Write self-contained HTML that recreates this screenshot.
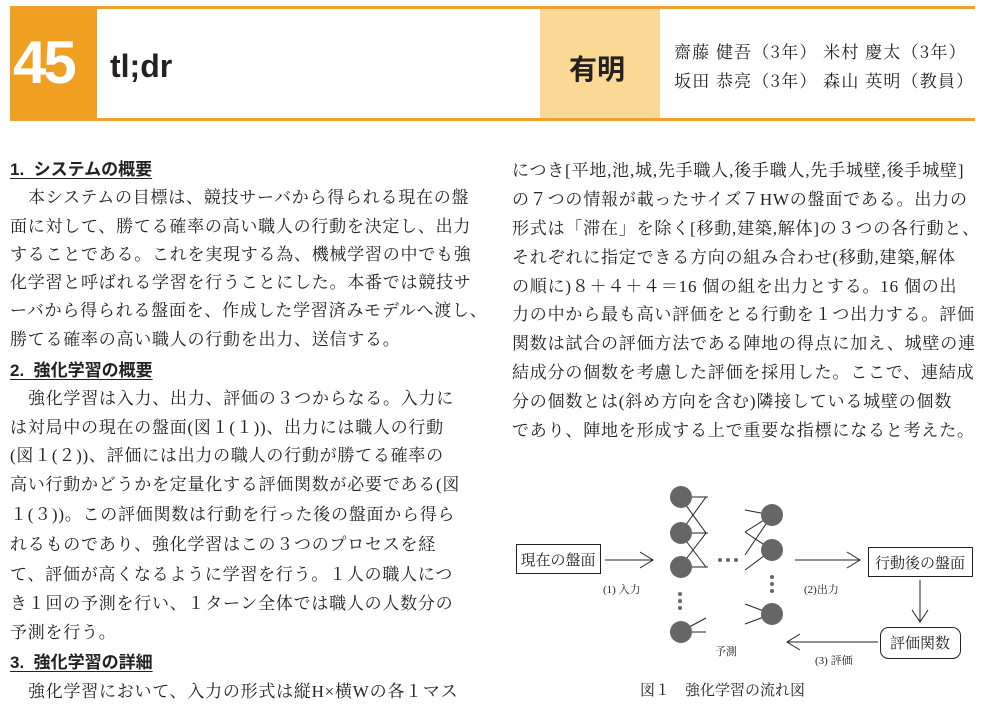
<!DOCTYPE html>
<html><head><meta charset="utf-8"><style>
body{margin:0;width:990px;height:714px;background:#fff;position:relative;overflow:hidden;font-family:"Liberation Serif","Noto Serif CJK SC",serif;color:#222}
.l{position:absolute;font-size:17px;white-space:nowrap;line-height:20px;letter-spacing:0.75px}
.r{letter-spacing:0.8px}
.h{font-family:"Liberation Sans","Noto Sans CJK JP",sans-serif;font-weight:bold;text-decoration:underline;text-underline-offset:3px;letter-spacing:0}
</style></head><body>
<div style="position:absolute;left:10px;top:6px;width:965px;height:3px;background:#f0a030"></div>
<div style="position:absolute;left:10px;top:118px;width:965px;height:3px;background:#f0a030"></div>
<div style="position:absolute;left:10px;top:9px;width:87px;height:109px;background:#f0a020"></div>
<div style="position:absolute;left:13px;top:28px;font:bold 60px 'Liberation Sans',sans-serif;color:#fff;letter-spacing:-3px">45</div>
<div style="position:absolute;left:110px;top:48px;font:bold 32px 'Liberation Sans',sans-serif;color:#222">tl;dr</div>
<div style="position:absolute;left:540px;top:9px;width:120px;height:109px;background:#fbd894"></div>
<div style="position:absolute;left:569px;top:48px;font:bold 28px 'Liberation Sans','Noto Sans CJK JP',sans-serif;color:#222">有明</div>
<div class="l" style="left:674px;top:41px;font-size:17px;font-family:'Noto Serif CJK SC',serif;letter-spacing:1.2px">齋藤 健吾（3年） 米村 慶太（3年）</div>
<div class="l" style="left:674px;top:70px;font-size:17px;font-family:'Noto Serif CJK SC',serif;letter-spacing:1.2px">坂田 恭亮（3年） 森山 英明（教員）</div>

<div class="l h" style="left:10px;top:160px">1.&nbsp; システムの概要</div>
<div class="l" style="left:28px;top:188px">本システムの目標は、競技サーバから得られる現在の盤</div>
<div class="l" style="left:10px;top:217px">面に対して、勝てる確率の高い職人の行動を決定し、出力</div>
<div class="l" style="left:10px;top:245px">することである。これを実現する為、機械学習の中でも強</div>
<div class="l" style="left:10px;top:273px">化学習と呼ばれる学習を行うことにした。本番では競技サ</div>
<div class="l" style="left:10px;top:301px">ーバから得られる盤面を、作成した学習済みモデルへ渡し、</div>
<div class="l" style="left:10px;top:330px">勝てる確率の高い職人の行動を出力、送信する。</div>
<div class="l h" style="left:10px;top:361px">2.&nbsp; 強化学習の概要</div>
<div class="l" style="left:28px;top:389px">強化学習は入力、出力、評価の３つからなる。入力に</div>
<div class="l" style="left:10px;top:418px">は対局中の現在の盤面(図１(１))、出力には職人の行動</div>
<div class="l" style="left:10px;top:446px">(図１(２))、評価には出力の職人の行動が勝てる確率の</div>
<div class="l" style="left:10px;top:475px">高い行動かどうかを定量化する評価関数が必要である(図</div>
<div class="l" style="left:10px;top:505px">１(３))。この評価関数は行動を行った後の盤面から得ら</div>
<div class="l" style="left:10px;top:535px">れるものであり、強化学習はこの３つのプロセスを経</div>
<div class="l" style="left:10px;top:565px">て、評価が高くなるように学習を行う。１人の職人につ</div>
<div class="l" style="left:10px;top:594px">き１回の予測を行い、１ターン全体では職人の人数分の</div>
<div class="l" style="left:10px;top:623px">予測を行う。</div>
<div class="l h" style="left:10px;top:653px">3.&nbsp; 強化学習の詳細</div>
<div class="l" style="left:28px;top:682px">強化学習において、入力の形式は縦H×横Wの各１マス</div>

<div class="l r" style="left:512px;top:161px">につき[平地,池,城,先手職人,後手職人,先手城壁,後手城壁]</div>
<div class="l r" style="left:512px;top:190px">の７つの情報が載ったサイズ７HWの盤面である。出力の</div>
<div class="l r" style="left:512px;top:219px">形式は「滞在」を除く[移動,建築,解体]の３つの各行動と、</div>
<div class="l r" style="left:512px;top:248px">それぞれに指定できる方向の組み合わせ(移動,建築,解体</div>
<div class="l r" style="left:512px;top:277px">の順に)８＋４＋４＝16 個の組を出力とする。16 個の出</div>
<div class="l r" style="left:512px;top:305px">力の中から最も高い評価をとる行動を１つ出力する。評価</div>
<div class="l r" style="left:512px;top:334px">関数は試合の評価方法である陣地の得点に加え、城壁の連</div>
<div class="l r" style="left:512px;top:363px">結成分の個数を考慮した評価を採用した。ここで、連結成</div>
<div class="l r" style="left:512px;top:392px">分の個数とは(斜め方向を含む)隣接している城壁の個数</div>
<div class="l r" style="left:512px;top:421px">であり、陣地を形成する上で重要な指標になると考えた。</div>

<svg style="position:absolute;left:0;top:0" width="990" height="714" font-family="Liberation Serif,Noto Serif CJK SC,serif">
<g fill="none" stroke="#222" stroke-width="1">
<rect x="516.5" y="544.5" width="84" height="29"/>
<rect x="868.5" y="547.5" width="104" height="29"/>
<rect x="880.5" y="627.5" width="80" height="31" rx="8"/>
<path d="M605 560H653M640 552L653 560L640 568"/>
<path d="M795 560H860M847 552L860 560L847 568"/>
<path d="M920 580V622M912 610L920 622L928 610"/>
<path d="M878 642H787M800 634L787 642L800 650"/>
<path d="M680 497H708M680 533H708M680 567H708M680 497L706 533L680 567M680 533L706 497M680 567L706 533M680 533L706 567M680 632L706 618M680 632H706"/>
<path d="M745 510L772 515M745 532L772 515L745 555M745 532L772 550M745 570L772 550M772 515L745 555M745 604L772 614M745 624L772 614"/>
</g>
<g fill="#666">
<circle cx="681" cy="497" r="11"/><circle cx="681" cy="533" r="11"/><circle cx="681" cy="567" r="11"/><circle cx="681" cy="632" r="11"/>
<circle cx="772" cy="515" r="11"/><circle cx="772" cy="550" r="11"/><circle cx="772" cy="614" r="11"/>
<circle cx="720" cy="560" r="2"/><circle cx="728" cy="560" r="2"/><circle cx="736" cy="560" r="2"/>
<circle cx="680" cy="594" r="2"/><circle cx="680" cy="601" r="2"/><circle cx="680" cy="608" r="2"/>
<circle cx="772" cy="577" r="2"/><circle cx="772" cy="584" r="2"/><circle cx="772" cy="591" r="2"/>
</g>
<g fill="#222">
<text x="558" y="565" font-size="15" text-anchor="middle">現在の盤面</text>
<text x="920" y="568" font-size="15" text-anchor="middle">行動後の盤面</text>
<text x="920" y="648" font-size="15" text-anchor="middle">評価関数</text>
<text x="603" y="593" font-size="11">(1) 入力</text>
<text x="804" y="593" font-size="11">(2)出力</text>
<text x="815" y="664" font-size="11">(3) 評価</text>
<text x="715" y="655" font-size="11">予測</text>
<text x="640" y="695" font-size="15">図１　強化学習の流れ図</text>
</g>
</svg>
</body></html>
